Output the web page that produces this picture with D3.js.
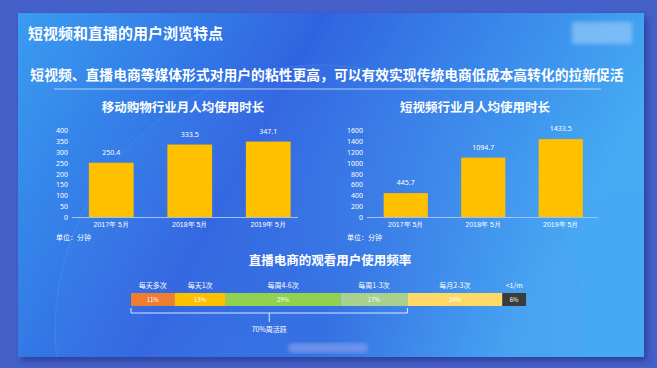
<!DOCTYPE html>
<html>
<head>
<meta charset="utf-8">
<script src="https://cdn.jsdelivr.net/npm/d3@7"></script>
<style>
  body { margin: 0; background: #4560c9; }
  svg { display: block; font-family: "Noto Sans CJK SC", "Noto Sans", sans-serif; }
</style>
</head>
<body>
<svg id="chart"></svg>
<script>
const w = 657;
const h = 368;

// data
const years = ['2017年 5月', '2018年 5月', '2019年 5月'];
const shoppingMinutes = [250.4, 333.5, 347.1];
const shoppingTicks = [0, 50, 100, 150, 200, 250, 300, 350, 400];
const videoMinutes = [445.7, 1094.7, 1433.5];
const videoTicks = [0, 200, 400, 600, 800, 1000, 1200, 1400, 1600];
const freqLabels = ['每天多次', '每天1次', '每周4-6次', '每周1-3次', '每月2-3次', '<1/m'];
const freqShares = [11, 13, 29, 17, 24, 6];
const freqColors = ['#ed7d31', '#ffc000', '#92d050', '#a9d18e', '#ffd966', '#3b3b3b'];

const svg = d3.select('#chart').attr('width', w).attr('height', h);
const defs = svg.append('defs');

const bg = defs.append('linearGradient').attr('id', 'card').
attr('x1', '0').attr('y1', '0').attr('x2', '1').attr('y2', '0.3');
bg.append('stop').attr('offset', '0%').attr('stop-color', '#3a9cf0');
bg.append('stop').attr('offset', '45%').attr('stop-color', '#2f64e0');
bg.append('stop').attr('offset', '100%').attr('stop-color', '#45acf4');

const glow = defs.append('radialGradient').attr('id', 'glow');
glow.append('stop').attr('offset', '0%').attr('stop-color', '#2c50d6').attr('stop-opacity', 0.4);
glow.append('stop').attr('offset', '100%').attr('stop-color', '#5a8ef0').attr('stop-opacity', 0.08);

defs.append('filter').attr('id', 'shadow').
append('feDropShadow').attr('dx', 3).attr('dy', 4).attr('stdDeviation', 3).
attr('flood-color', '#1f2f80').attr('flood-opacity', 0.6);

defs.append('filter').attr('id', 'blur').
append('feGaussianBlur').attr('stdDeviation', 2);

defs.append('clipPath').attr('id', 'cardClip').
append('rect').attr('x', 18).attr('y', 13).attr('width', 626).attr('height', 344);

svg.append('rect').attr('x', 18).attr('y', 13).attr('width', 626).attr('height', 344).
attr('fill', 'url(#card)').attr('filter', 'url(#shadow)');

const deco = svg.append('g').attr('clip-path', 'url(#cardClip)');
deco.append('circle').attr('cx', 320).attr('cy', 330).attr('r', 265).
attr('fill', 'url(#glow)').attr('stroke', '#6aa8f5').attr('stroke-opacity', 0.25);
deco.append('circle').attr('cx', 640).attr('cy', 330).attr('r', 140).
attr('fill', '#4aa0f0').attr('opacity', 0.25);

// blurred marks
deco.append('rect').attr('x', 572).attr('y', 22).attr('width', 60).attr('height', 22).
attr('fill', '#9fd0fa').attr('opacity', 0.6).attr('filter', 'url(#blur)');
deco.append('rect').attr('x', 288).attr('y', 343).attr('width', 80).attr('height', 10).attr('rx', 5).
attr('fill', '#7a98ec').attr('opacity', 0.8).attr('filter', 'url(#blur)');

svg.append('text').attr('x', 28).attr('y', 39).
attr('fill', '#fff').attr('font-size', 15).attr('font-weight', 'bold').
text('短视频和直播的用户浏览特点');

svg.append('text').attr('x', 327).attr('y', 80).attr('text-anchor', 'middle').
attr('fill', '#fff').attr('font-size', 13.8).attr('font-weight', 'bold').
text('短视频、直播电商等媒体形式对用户的粘性更高，可以有效实现传统电商低成本高转化的拉新促活');

svg.append('line').attr('x1', 54).attr('x2', 601).attr('y1', 89).attr('y2', 89).
attr('stroke', '#cfe3ff').attr('stroke-width', 1).attr('opacity', 0.8);

function barChart(opts) {
  const g = svg.append('g');
  const x = d3.scaleBand().domain(years).range([opts.x0, opts.x1]).paddingInner(0.43).paddingOuter(0.215);
  const y = d3.scaleLinear().domain([0, opts.ticks[opts.ticks.length - 1]]).range([217.5, 130]);

  g.append('text').attr('x', opts.titleX).attr('y', 112).attr('text-anchor', 'middle').
  attr('fill', '#fff').attr('font-size', 12.5).attr('font-weight', 'bold').text(opts.title);

  const yAxis = g.append('g').attr('transform', 'translate(' + opts.x0 + ',0)').
  call(d3.axisLeft(y).tickValues(opts.ticks).tickFormat(d3.format('d')).tickSize(0).tickPadding(4));
  yAxis.select('.domain').remove();
  yAxis.selectAll('text').attr('fill', '#fff').attr('font-size', 7).attr('font-family', 'Noto Sans, sans-serif');

  g.selectAll('rect').data(opts.values).enter().append('rect').
  attr('x', (d, i) => x(years[i])).
  attr('y', d => y(d)).
  attr('width', x.bandwidth()).
  attr('height', d => y(0) - y(d)).
  attr('fill', '#ffc000');

  g.selectAll('.val').data(opts.values).enter().append('text').
  attr('x', (d, i) => x(years[i]) + x.bandwidth() / 2).
  attr('y', d => y(d) - 8).
  attr('text-anchor', 'middle').attr('fill', '#fff').attr('font-size', 7).
  attr('font-family', 'Noto Sans, sans-serif').
  text(d => d);

  const xAxis = g.append('g').attr('transform', 'translate(0,' + y(0) + ')').
  call(d3.axisBottom(x).tickSize(0).tickPadding(5));
  xAxis.select('.domain').attr('stroke', '#9fc3f5').attr('stroke-width', 1.2).
  attr('d', 'M' + opts.x0 + ',0H' + opts.axisEnd);
  xAxis.selectAll('text').attr('fill', '#fff').attr('font-size', 7);

  g.append('text').attr('x', opts.unitX).attr('y', 240).attr('fill', '#fff').attr('font-size', 7).
  text('单位：分钟');
}

barChart({ x0: 72, x1: 307.5, axisEnd: 298, ticks: shoppingTicks, values: shoppingMinutes,
  title: '移动购物行业月人均使用时长', titleX: 183, unitX: 56 });
barChart({ x0: 367, x1: 599.5, axisEnd: 598, ticks: videoTicks, values: videoMinutes,
  title: '短视频行业月人均使用时长', titleX: 475, unitX: 347 });

// frequency bar
svg.append('text').attr('x', 330).attr('y', 265).attr('text-anchor', 'middle').
attr('fill', '#fff').attr('font-size', 12.5).attr('font-weight', 'bold').
text('直播电商的观看用户使用频率');

const fx = d3.scaleLinear().domain([0, d3.sum(freqShares)]).range([131, 526]);
const starts = d3.cumsum([0].concat(freqShares.slice(0, -1)));
const fg = svg.append('g');
fg.selectAll('rect').data(freqShares).enter().append('rect').
attr('x', (d, i) => fx(starts[i])).
attr('y', 293).
attr('width', d => fx(d) - fx(0)).
attr('height', 13).
attr('fill', (d, i) => freqColors[i]);

fg.selectAll('.pct').data(freqShares).enter().append('text').
attr('x', (d, i) => fx(starts[i] + d / 2)).
attr('y', 302).attr('text-anchor', 'middle').
attr('fill', '#fff').attr('font-size', 6).
text(d => d + '%');

fg.selectAll('.lbl').data(freqLabels).enter().append('text').
attr('x', (d, i) => fx(starts[i] + freqShares[i] / 2)).
attr('y', 288).attr('text-anchor', 'middle').
attr('fill', '#fff').attr('font-size', 7).
text(d => d);

// bracket for weekly active
const bx0 = fx(0);
const bx1 = fx(starts[4]);
const bm = (bx0 + bx1) / 2;
svg.append('path').
attr('d', 'M' + bx0 + ',308V313H' + bx1 + 'V308M' + bm + ',313V322').
attr('fill', 'none').attr('stroke', '#d8e6ff').attr('stroke-width', 1);
svg.append('text').attr('x', bm).attr('y', 332).attr('text-anchor', 'middle').
attr('fill', '#fff').attr('font-size', 7).text('70%周活跃');
</script>
</body>
</html>
